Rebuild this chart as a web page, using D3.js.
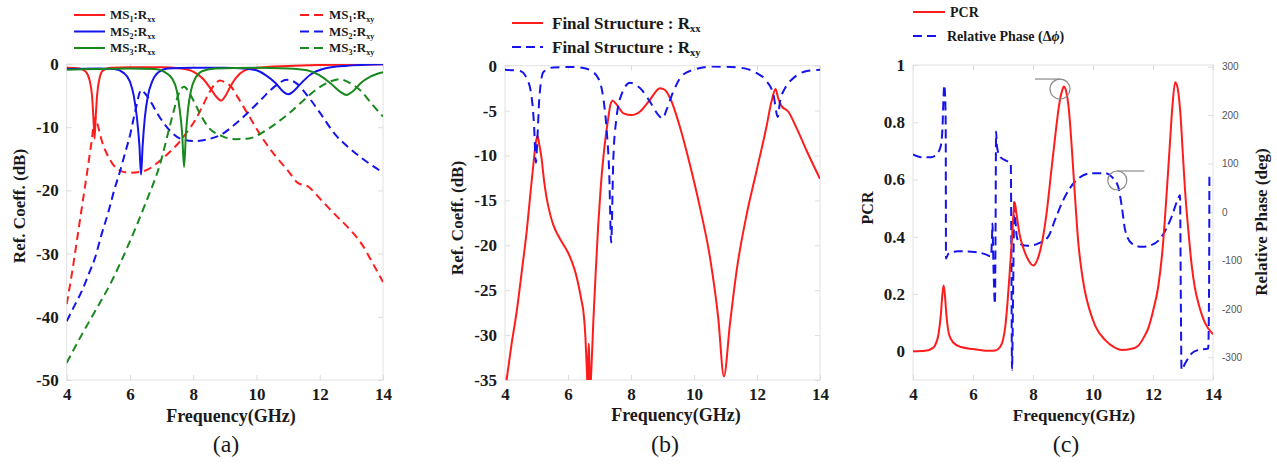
<!DOCTYPE html>
<html>
<head>
<meta charset="utf-8">
<script src="https://cdn.jsdelivr.net/npm/d3@7"></script>
<style>
body { margin: 0; background: #fff; }
</style>
</head>
<body>
<div id="chart"></div>
<script>
// ---- data: [frequency GHz, value] ----
var freqTicks = [4, 6, 8, 10, 12, 14];
var dbTicksA = [0, -10, -20, -30, -40, -50];
var dbTicksB = [0, -5, -10, -15, -20, -25, -30, -35];
var pcrTicks = [0, 0.2, 0.4, 0.6, 0.8, 1];
var phaseTicks = [-300, -200, -100, 0, 100, 200, 300];

var ms1Rxx = [[4,-0.6],[4.4,-0.7],[4.6,-1.2],[4.72,-2.5],[4.8,-5],[4.85,-9],[4.88,-11.8],[4.91,-9],[4.96,-5],[5.04,-2.2],[5.15,-1.0],[5.4,-0.6],[6,-0.5],[7,-0.5],[7.6,-0.7],[8.0,-1.2],[8.3,-2.3],[8.55,-3.9],[8.75,-5.3],[8.88,-5.8],[9.0,-5.2],[9.15,-3.8],[9.35,-2.2],[9.6,-1.1],[10,-0.6],[11,-0.3],[12,-0.15],[13,-0.1],[14,-0.05]];
var ms1Rxy = [[4,-38],[4.17,-33],[4.35,-27],[4.5,-22],[4.65,-17],[4.78,-12.5],[4.9,-8.5],[5.0,-10],[5.1,-12],[5.25,-14],[5.45,-15.8],[5.7,-16.9],[6.0,-17.2],[6.3,-17.1],[6.6,-16.6],[6.9,-15.5],[7.2,-14.2],[7.5,-12.7],[7.8,-10.8],[8.06,-8.9],[8.3,-6.6],[8.5,-4.6],[8.7,-3.1],[8.85,-2.6],[9.0,-2.9],[9.2,-3.6],[9.4,-5.2],[9.75,-8.1],[10.17,-11.6],[10.59,-14.5],[11.0,-16.9],[11.33,-18.9],[11.6,-19.3],[12.06,-21.6],[12.48,-23.8],[12.9,-25.9],[13.33,-28.5],[13.64,-31.2],[14,-34.5]];
var ms2Rxx = [[4,-0.8],[5,-0.7],[5.5,-0.8],[5.8,-1.4],[6.0,-2.8],[6.12,-5],[6.22,-8.5],[6.3,-13],[6.35,-17.5],[6.4,-13],[6.47,-8.5],[6.57,-5],[6.7,-2.8],[6.9,-1.3],[7.2,-0.7],[8,-0.6],[9,-0.6],[9.6,-0.7],[10.0,-1.0],[10.3,-1.8],[10.6,-3.0],[10.85,-4.4],[11.0,-4.8],[11.15,-4.4],[11.4,-3.1],[11.7,-1.7],[12.1,-0.8],[12.8,-0.3],[14,-0.05]];
var ms2Rxy = [[4,-40.7],[4.25,-38.2],[4.48,-35.9],[4.7,-33.2],[4.9,-30.6],[5.1,-27],[5.33,-23.2],[5.5,-20],[5.69,-16.9],[5.85,-14],[6.01,-11.1],[6.12,-8.5],[6.22,-6.3],[6.3,-4.6],[6.36,-4.1],[6.45,-4.5],[6.59,-5.4],[6.75,-6.8],[6.9,-8.1],[7.22,-10.3],[7.64,-11.9],[8.06,-12.2],[8.48,-11.9],[8.91,-11.1],[9.33,-9.5],[9.75,-7.6],[10.17,-5.5],[10.59,-3.5],[10.96,-2.5],[11.22,-2.9],[11.64,-5.2],[12.06,-8.1],[12.48,-11.1],[12.91,-13.2],[13.33,-14.9],[13.7,-16.2],[14,-17.2]];
var ms3Rxx = [[4,-0.9],[5,-0.8],[6,-0.7],[6.8,-0.8],[7.1,-1.3],[7.33,-2.3],[7.48,-4.2],[7.58,-7.5],[7.65,-11],[7.71,-16.3],[7.77,-11],[7.84,-7],[7.93,-4.2],[8.06,-2.3],[8.3,-1.1],[8.7,-0.7],[10,-0.6],[11,-0.7],[11.6,-1.0],[12.0,-1.8],[12.35,-3.1],[12.65,-4.4],[12.85,-4.9],[13.05,-4.3],[13.3,-3.0],[13.6,-2.0],[14,-1.3]];
var ms3Rxy = [[4,-47.3],[4.48,-42.8],[4.9,-39.1],[5.43,-34.3],[5.96,-28.5],[6.48,-22.2],[7.01,-14.8],[7.2,-11],[7.38,-7.5],[7.54,-4.7],[7.71,-3.6],[7.88,-4.6],[8.05,-6.2],[8.25,-8.2],[8.48,-10],[8.91,-11.4],[9.33,-11.9],[9.75,-11.8],[10.17,-10.9],[10.59,-9.5],[11.01,-7.9],[11.43,-6.0],[11.85,-4.2],[12.27,-2.9],[12.64,-2.4],[12.91,-2.9],[13.33,-4.4],[13.64,-6.3],[14,-8.3]];

var finalRxx = [[4.05,-35],[4.2,-31.2],[4.37,-27.4],[4.53,-23],[4.69,-18.4],[4.8,-14.5],[4.9,-11],[4.97,-8.8],[5.03,-7.8],[5.09,-8.8],[5.16,-10.3],[5.24,-12.8],[5.32,-14.7],[5.43,-16.5],[5.53,-17.7],[5.7,-19],[5.85,-19.9],[6.0,-20.8],[6.12,-21.8],[6.25,-23.2],[6.33,-24.4],[6.42,-26],[6.49,-27.4],[6.55,-30],[6.6,-34],[6.63,-36.5],[6.65,-31],[6.67,-31],[6.69,-36.5],[6.74,-34],[6.8,-28.8],[6.88,-23],[6.96,-17.7],[7.04,-13.5],[7.12,-10.3],[7.2,-7.8],[7.28,-5.8],[7.35,-4.3],[7.42,-3.9],[7.54,-4.3],[7.76,-5.3],[8.02,-5.5],[8.29,-5.1],[8.6,-3.8],[8.92,-2.5],[9.08,-2.7],[9.24,-3.6],[9.56,-6.9],[9.87,-11],[10.19,-15.8],[10.51,-21.4],[10.77,-28.1],[10.95,-34.6],[11.14,-28.8],[11.35,-22.9],[11.67,-16.6],[11.98,-11.8],[12.3,-6.8],[12.46,-4],[12.59,-2.6],[12.67,-3.6],[12.78,-4.5],[12.99,-5.1],[13.25,-6.9],[13.58,-9.5],[14,-12.6]];
var finalRxy = [[4,-0.45],[4.48,-0.6],[4.69,-1.4],[4.85,-3.6],[4.92,-6.5],[4.98,-10.8],[5.03,-8.0],[5.09,-3.6],[5.22,-0.7],[5.53,-0.2],[6.17,-0.15],[6.5,-0.25],[6.7,-0.5],[6.96,-1.4],[7.12,-3.6],[7.23,-7.3],[7.31,-12.1],[7.37,-19.7],[7.44,-10.3],[7.54,-5.8],[7.7,-3.2],[7.97,-1.9],[8.29,-2.5],[8.6,-4.0],[8.87,-5.5],[9.0,-5.9],[9.13,-4.9],[9.34,-2.9],[9.6,-1.2],[9.98,-0.45],[10.61,-0.1],[11.2,-0.15],[11.6,-0.3],[11.98,-0.8],[12.3,-1.7],[12.52,-3.2],[12.66,-5.7],[12.73,-4.0],[12.89,-2.5],[13.15,-1.4],[13.58,-0.6],[14,-0.45]];

var pcr = [[4,0],[4.4,0.002],[4.6,0.008],[4.73,0.02],[4.85,0.06],[4.93,0.13],[4.98,0.2],[5.02,0.23],[5.06,0.2],[5.12,0.12],[5.2,0.06],[5.35,0.03],[5.6,0.015],[6,0.008],[6.5,0.002],[6.75,0.003],[6.9,0.015],[7.0,0.04],[7.08,0.09],[7.15,0.17],[7.22,0.27],[7.29,0.38],[7.35,0.48],[7.39,0.52],[7.45,0.48],[7.55,0.41],[7.68,0.36],[7.84,0.32],[8.01,0.3],[8.18,0.33],[8.3,0.38],[8.45,0.48],[8.62,0.64],[8.75,0.76],[8.87,0.86],[8.97,0.91],[9.03,0.925],[9.1,0.91],[9.2,0.84],[9.3,0.7],[9.4,0.54],[9.51,0.38],[9.62,0.28],[9.73,0.21],[9.9,0.14],[10.07,0.09],[10.4,0.04],[10.7,0.015],[10.96,0.005],[11.25,0.008],[11.51,0.02],[11.7,0.05],[11.84,0.08],[12.0,0.14],[12.18,0.23],[12.33,0.37],[12.46,0.56],[12.56,0.72],[12.65,0.86],[12.74,0.94],[12.82,0.92],[12.92,0.82],[13.0,0.68],[13.07,0.56],[13.18,0.42],[13.29,0.3],[13.4,0.22],[13.51,0.17],[13.73,0.1],[14,0.06]];
var relPhase = [[4,119],[4.3,113],[4.6,113],[4.8,120],[4.92,135],[4.98,170],[5.02,240],[5.04,262],[5.07,240],[5.09,180],[5.1,-96],[5.18,-86],[5.5,-81],[5.96,-82],[6.4,-87],[6.6,-92],[6.63,-60],[6.65,-24],[6.67,-80],[6.7,-150],[6.73,-190],[6.75,-60],[6.77,166],[6.8,135],[6.9,114],[7.07,107],[7.26,100],[7.28,-100],[7.3,-326],[7.34,-150],[7.38,25],[7.42,-20],[7.46,-51],[7.57,-66],[7.84,-70],[8.18,-65],[8.51,-51],[8.73,-17],[8.96,18],[9.23,49],[9.51,69],[9.96,80],[10.4,80],[10.62,73],[10.84,52],[10.96,11],[11.07,-37],[11.29,-65],[11.62,-72],[11.96,-68],[12.29,-51],[12.62,-10],[12.82,25],[12.9,35],[12.93,-200],[12.95,-326],[13.07,-313],[13.29,-292],[13.51,-285],[13.84,-282],[13.87,-150],[13.88,80]];

// circled points in (c): [freq, value]
var pcrMark = [8.9, 0.916];
var phaseMark = [10.81, 65];

var red = "#ff1c1c", blue = "#1414ec", green = "#18891c";
var serif = "'Liberation Serif', 'Times New Roman', serif";

var svg = d3.select("#chart").append("svg")
	.attr("width", 1277)
	.attr("height", 464);

function makePanel(id, left, right, top, bottom, xDomain, yDomain) {
	var p = {
		id: id,
		left: left, right: right, top: top, bottom: bottom,
		x: d3.scaleLinear().domain(xDomain).range([left, right]),
		y: d3.scaleLinear().domain(yDomain).range([bottom, top])
	};
	svg.append("clipPath").attr("id", "clip" + id)
		.append("rect")
		.attr("x", left).attr("y", top)
		.attr("width", right - left).attr("height", bottom - top);
	svg.append("rect")
		.attr("x", left).attr("y", top)
		.attr("width", right - left).attr("height", bottom - top)
		.attr("fill", "none")
		.attr("stroke", "#e2e2e2");
	return p;
}

function styleAxis(g, size, weight, color, family) {
	g.select(".domain").remove();
	g.selectAll(".tick line").attr("stroke", "#dcdcdc");
	g.selectAll(".tick text")
		.attr("font-family", family || serif)
		.attr("font-weight", weight)
		.attr("font-size", size)
		.attr("fill", color);
}

function drawAxes(p, yTicks, noRight) {
	var fmt = function(d) { return String(d); };
	styleAxis(svg.append("g").attr("transform", "translate(0," + p.bottom + ")")
		.call(d3.axisBottom(p.x).tickValues(freqTicks).tickSize(-5).tickPadding(8).tickFormat(fmt)), 17, "bold", "#1a1a1a");
	styleAxis(svg.append("g").attr("transform", "translate(0," + p.top + ")")
		.call(d3.axisTop(p.x).tickValues(freqTicks).tickSize(-5).tickFormat("")), 1, "normal", "none");
	styleAxis(svg.append("g").attr("transform", "translate(" + p.left + ",0)")
		.call(d3.axisLeft(p.y).tickValues(yTicks).tickSize(-5).tickPadding(8).tickFormat(fmt)), 17, "bold", "#1a1a1a");
	if (!noRight) {
		styleAxis(svg.append("g").attr("transform", "translate(" + p.right + ",0)")
			.call(d3.axisRight(p.y).tickValues(yTicks).tickSize(-5).tickFormat("")), 1, "normal", "none");
	}
}

function drawSeries(p, data, yScale, color, dashed, dash) {
	var line = d3.line()
		.x(function(d) { return p.x(d[0]); })
		.y(function(d) { return yScale(d[1]); })
		.curve(d3.curveMonotoneX);
	svg.append("path")
		.datum(data)
		.attr("clip-path", "url(#clip" + p.id + ")")
		.attr("fill", "none")
		.attr("stroke", color)
		.attr("stroke-width", 2)
		.attr("stroke-dasharray", dashed ? (dash || "8,5") : null)
		.attr("d", line);
}

function addText(x, y, str, size, weight, anchor, rotate) {
	var t = svg.append("text")
		.attr("font-family", serif)
		.attr("font-size", size)
		.attr("font-weight", weight)
		.attr("fill", "#1a1a1a")
		.attr("text-anchor", anchor || "middle")
		.text(str);
	if (rotate) t.attr("transform", "translate(" + x + "," + y + ") rotate(" + rotate + ")");
	else t.attr("x", x).attr("y", y);
	return t;
}

// parts: [text, "sub" | "it" | ""]
function legendItem(x1, x2, y, color, dashed, tx, parts, size) {
	svg.append("line")
		.attr("x1", x1).attr("x2", x2).attr("y1", y).attr("y2", y)
		.attr("stroke", color).attr("stroke-width", 2)
		.attr("stroke-dasharray", dashed ? "9,5" : null);
	var t = svg.append("text")
		.attr("x", tx).attr("y", y + size * 0.33)
		.attr("font-family", serif)
		.attr("font-weight", "bold")
		.attr("font-size", size)
		.attr("fill", "#1a1a1a");
	var shifted = false;
	parts.forEach(function(part) {
		var s = t.append("tspan").text(part[0]);
		if (part[1] === "sub" && !shifted) { s.attr("font-size", size * 0.62).attr("dy", size * 0.22); shifted = true; }
		else if (part[1] !== "sub" && shifted) { s.attr("dy", -size * 0.22); shifted = false; }
		if (part[1] === "it") s.attr("font-style", "italic");
	});
}

// ---------- (a) ----------
var pa = makePanel("a", 66.7, 383, 64, 380, [4, 14], [-50, 0]);
drawAxes(pa, dbTicksA);
drawSeries(pa, ms1Rxy, pa.y, red, true);
drawSeries(pa, ms2Rxy, pa.y, blue, true);
drawSeries(pa, ms3Rxy, pa.y, green, true);
drawSeries(pa, ms1Rxx, pa.y, red, false);
drawSeries(pa, ms2Rxx, pa.y, blue, false);
drawSeries(pa, ms3Rxx, pa.y, green, false);
addText(25, 206, "Ref. Coeff. (dB)", 17, "bold", "middle", -90);
addText(231, 422, "Frequency(GHz)", 18, "bold");
addText(226, 452, "(a)", 24, "normal");

var legendA = [
	[red, "1"], [blue, "2"], [green, "3"]
];
legendA.forEach(function(l, i) {
	legendItem(74, 105, 15 + i * 16.5, l[0], false, 110, [["MS", ""], [l[1], "sub"], [":R", ""], ["xx", "sub"]], 13);
	legendItem(300, 323, 15 + i * 16.5, l[0], true, 329, [["MS", ""], [l[1], "sub"], [":R", ""], ["xy", "sub"]], 13);
});

// ---------- (b) ----------
var pb = makePanel("b", 505, 820, 65.7, 380, [4, 14], [-35, 0]);
drawAxes(pb, dbTicksB);
drawSeries(pb, finalRxx, pb.y, red, false);
drawSeries(pb, finalRxy, pb.y, blue, true, "9,6");
addText(463, 218, "Ref. Coeff. (dB)", 17, "bold", "middle", -90);
addText(676, 421, "Frequency(GHz)", 18, "bold");
addText(665, 452, "(b)", 24, "normal");
legendItem(512, 543, 23, red, false, 552, [["Final Structure : R", ""], ["xx", "sub"]], 17);
legendItem(512, 543, 47, blue, true, 552, [["Final Structure : R", ""], ["xy", "sub"]], 17);

// ---------- (c) ----------
var pc = makePanel("c", 913, 1213, 65, 380, [4, 14], [-0.1, 1]);
var yPhase = d3.scaleLinear().domain([-347, 303.5]).range([380, 65]);
drawAxes(pc, pcrTicks, true);
styleAxis(svg.append("g").attr("transform", "translate(" + pc.right + ",0)")
	.call(d3.axisRight(yPhase).tickValues(phaseTicks).tickSize(-5).tickPadding(9).tickFormat(function(d) { return String(d); })),
	10, "normal", "#555", "'Liberation Sans', Arial, sans-serif");
drawSeries(pc, relPhase, yPhase, blue, true, "9,5");
drawSeries(pc, pcr, pc.y, red, false);

// circled points with leader lines
var cx1 = pc.x(pcrMark[0]), cy1 = pc.y(pcrMark[1]);
svg.append("circle").attr("cx", cx1).attr("cy", cy1).attr("r", 10)
	.attr("fill", "none").attr("stroke", "#8a8a8a").attr("stroke-width", 1.2);
svg.append("line").attr("x1", cx1 - 25).attr("x2", cx1).attr("y1", cy1 - 10).attr("y2", cy1 - 10)
	.attr("stroke", "#8a8a8a").attr("stroke-width", 1.2);
var cx2 = pc.x(phaseMark[0]), cy2 = yPhase(phaseMark[1]);
svg.append("circle").attr("cx", cx2).attr("cy", cy2).attr("r", 9.5)
	.attr("fill", "none").attr("stroke", "#8a8a8a").attr("stroke-width", 1.2);
svg.append("line").attr("x1", cx2).attr("x2", cx2 + 27).attr("y1", cy2 - 9.5).attr("y2", cy2 - 9.5)
	.attr("stroke", "#8a8a8a").attr("stroke-width", 1.2);

addText(873, 208, "PCR", 16, "bold", "middle", -90);
addText(1267, 222, "Relative Phase (deg)", 17, "bold", "middle", -90);
addText(1074, 421, "Frequency(GHz)", 17, "bold");
addText(1066, 452, "(c)", 24, "normal");
legendItem(913, 945, 12, red, false, 950, [["PCR", ""]], 14);
legendItem(913, 940, 36, blue, true, 947, [["Relative Phase (\u0394", ""], ["\u03d5", "it"], [")", ""]], 14);
</script>
</body>
</html>
